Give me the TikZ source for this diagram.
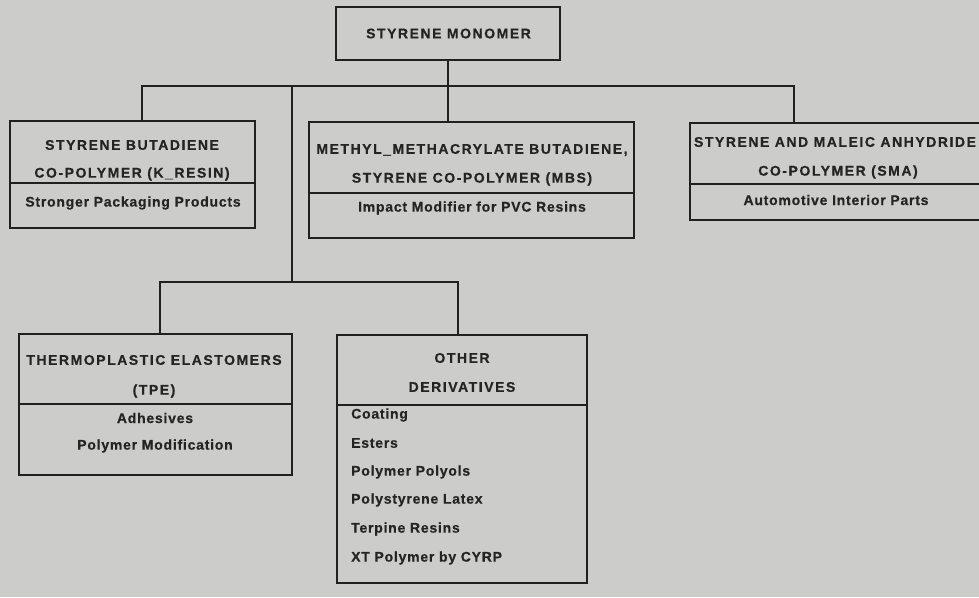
\documentclass[tikz,border=0pt]{standalone}
\usepackage{fontspec}
\newfontfamily\capfont{Liberation Sans Bold}[LetterSpace=11.0, FakeBold=0.5]
\newfontfamily\lowfont{Liberation Sans Bold}[LetterSpace=5.5, FakeBold=0.5]
\definecolor{bg}{RGB}{204,204,202}
\definecolor{ln}{RGB}{32,32,32}
\definecolor{tx}{RGB}{36,36,36}
\begin{document}
\begin{tikzpicture}[x=1pt,y=-1pt,
  box/.style={draw=ln, line width=1.8pt, inner sep=0pt},
  conn/.style={draw=ln, line width=1.8pt},
  divline/.style={draw=ln, line width=1.6pt},
  txt/.style={text=tx, inner sep=0pt, font=\fontsize{14}{16}\capfont},
  ltx/.style={text=tx, inner sep=0pt, font=\fontsize{14}{16}\lowfont},
  ltxt/.style={ltx, anchor=west}]
\useasboundingbox (0,0) rectangle (979,597);
\fill[bg] (0,0) rectangle (979,597);
\clip (0,0) rectangle (979,597);
% boxes
\node[box, minimum width=224pt, minimum height=53pt] (top) at (448,33.5) {};
\node[txt] (toptext) at (448.5,33.5) {STYRENE MONOMER};
\node[box, minimum width=245pt, minimum height=107pt] (sbc) at (132.5,174.5) {};
\node[box, minimum width=325pt, minimum height=116pt] (mbs) at (471.5,180) {};
\node[box, minimum width=292pt, minimum height=97pt] (sma) at (836,171.5) {};
\node[box, minimum width=273pt, minimum height=141pt] (tpe) at (155.5,404.5) {};
\node[box, minimum width=250pt, minimum height=248pt] (oth) at (462,459) {};
% dividers
\coordinate (d1) at (0,183);
\coordinate (d2) at (0,193);
\coordinate (d3) at (0,184);
\coordinate (d4) at (0,404);
\coordinate (d5) at (0,405);
\draw[divline] (sbc.west |- d1) -- (sbc.east |- d1);
\draw[divline] (mbs.west |- d2) -- (mbs.east |- d2);
\draw[divline] (sma.west |- d3) -- (sma.east |- d3);
\draw[divline] (tpe.west |- d4) -- (tpe.east |- d4);
\draw[divline] (oth.west |- d5) -- (oth.east |- d5);
% texts
\node[txt] (s1) at (132,145) {STYRENE BUTADIENE};
\node[txt] (s2) at (132,174) {CO-POLYMER (K\_RESIN)};
\node[ltx] (s3) at (133,203) {Stronger Packaging Products};
\node[txt] (m1) at (472,150) {METHYL\_METHACRYLATE BUTADIENE,};
\node[txt] (m2) at (472,179) {STYRENE CO-POLYMER (MBS)};
\node[ltx] (m3) at (472,208) {Impact Modifier for PVC Resins};
\node[txt] (a1) at (835,142) {STYRENE AND MALEIC ANHYDRIDE};
\node[txt] (a2) at (838,172) {CO-POLYMER (SMA)};
\node[ltx] (a3) at (836,200) {Automotive Interior Parts};
\node[txt] (e1) at (154,360) {THERMOPLASTIC ELASTOMERS};
\node[txt] (e2) at (154,391) {(TPE)};
\node[ltx] (e3) at (155,418) {Adhesives};
\node[ltx] (e4) at (155,446) {Polymer Modification};
\node[txt] (o1) at (462,358) {OTHER};
\node[txt] (o2) at (462,387) {DERIVATIVES};
\node[ltxt] (i1) at (351,415) {Coating};
\node[ltxt] (i2) at (351,443) {Esters};
\node[ltxt] (i3) at (351,472) {Polymer Polyols};
\node[ltxt] (i4) at (351,500) {Polystyrene Latex};
\node[ltxt] (i5) at (351,529) {Terpine Resins};
\node[ltxt] (i6) at (351,558) {XT Polymer by CYRP};
% connectors
\coordinate (b1) at (142,86);
\coordinate (b2) at (794,86);
\coordinate (t1) at (292,86);
\coordinate (t2) at (292,282);
\coordinate (c1) at (160,282);
\coordinate (c2) at (458,282);
\draw[conn] (top.south) -- (top.south |- mbs.north);
\draw[conn] (b1 |- sbc.north) -- (b1) -- (b2) -- (b2 |- sma.north);
\draw[conn] (t1) -- (t2);
\draw[conn] (c1 |- tpe.north) -- (c1) -- (c2) -- (c2 |- oth.north);
\end{tikzpicture}
\end{document}
